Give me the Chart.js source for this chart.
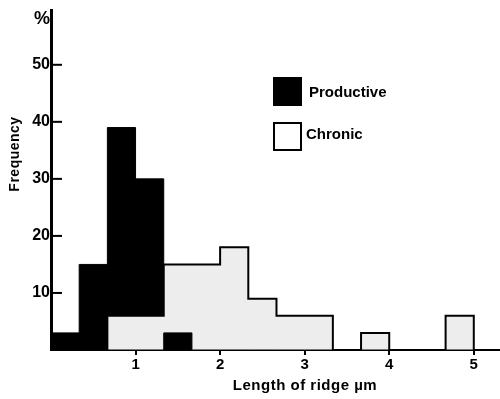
<!DOCTYPE html>
<html>
<head>
<meta charset="utf-8">
<title>Length of ridge histogram</title>
<script src="https://cdn.jsdelivr.net/npm/chart.js"></script>
<style>body { margin: 0; background: #fff; }</style>
</head>
<body>
<div style="width: 500px; height: 399px;">
    <canvas id="histChart"></canvas>
</div>

<script>
    // bins are 1/3 um wide
    const binEdges = [0, 0.3333, 0.6667, 1, 1.3333, 1.6667, 2, 2.3333, 2.6667, 3, 3.3333, 3.6667, 4, 4.3333, 4.6667, 5];
    const productive = [3, 15, 39, 30, 3, 0, 0, 0, 0, 0, 0, 0, 0, 0, 0];
    const chronic = [0, 0, 6, 6, 15, 15, 18, 9, 6, 6, 0, 3, 0, 0, 6];
    const yTicks = [10, 20, 30, 40, 50];
    const xTicks = [1, 2, 3, 4, 5];

    const FONT = '"Liberation Sans", Arial, sans-serif';

    // smaller bar is drawn on top, as in the original figure
    const productiveFront = productive.map((v, i) => v < chronic[i] ? v : 0);

    function steps(values) {
        return binEdges.map((x, i) => ({ x: x, y: i < values.length ? values[i] : 0 }));
    }

    const decor = {
        id: 'decor',
        afterDraw(chart) {
            const { ctx, scales: { x, y } } = chart;
            ctx.save();
            ctx.strokeStyle = '#000';
            ctx.lineWidth = 2;
            yTicks.forEach(v => {
                const py = y.getPixelForValue(v);
                ctx.beginPath();
                ctx.moveTo(x.left, py);
                ctx.lineTo(x.left + 11, py);
                ctx.stroke();
            });

            ctx.fillStyle = '#000';
            ctx.font = 'bold 18px ' + FONT;
            ctx.textAlign = 'right';
            ctx.textBaseline = 'middle';
            ctx.fillText('%', x.left - 1, 19);

            // axis titles
            ctx.font = 'bold 15px ' + FONT;
            ctx.textAlign = 'center';
            ctx.letterSpacing = '0.5px';
            ctx.fillText('Length of ridge \u00b5m', 305, 386);
            ctx.font = 'bold 14px ' + FONT;
            ctx.save();
            ctx.translate(15, 154);
            ctx.rotate(-Math.PI / 2);
            ctx.fillText('Frequency', 0, 0);
            ctx.restore();
            ctx.letterSpacing = '0px';

            // legend
            ctx.fillRect(273, 77, 29, 29);
            ctx.fillStyle = '#fff';
            ctx.fillRect(274, 123, 27, 27);
            ctx.strokeRect(274, 123, 27, 27);
            ctx.fillStyle = '#000';
            ctx.font = 'bold 15px ' + FONT;
            ctx.textAlign = 'left';
            ctx.fillText('Productive', 309, 93);
            ctx.fillText('Chronic', 306, 135);
            ctx.restore();
        }
    };

    const ctx = document.getElementById('histChart').getContext('2d');
    new Chart(ctx, {
        type: 'line',
        data: {
            datasets: [
                {
                    label: 'Productive',
                    data: steps(productive),
                    stepped: 'before',
                    borderColor: '#000',
                    borderWidth: 1,
                    backgroundColor: '#000',
                    fill: 'origin',
                    pointRadius: 0,
                    order: 3
                },
                {
                    label: 'Chronic',
                    data: steps(chronic),
                    stepped: 'before',
                    borderColor: '#000',
                    borderWidth: 2,
                    backgroundColor: '#ededed',
                    fill: 'origin',
                    pointRadius: 0,
                    order: 2
                },
                {
                    label: 'Productive (front)',
                    data: steps(productiveFront),
                    stepped: 'before',
                    borderColor: '#000',
                    borderWidth: 1,
                    backgroundColor: '#000',
                    fill: 'origin',
                    pointRadius: 0,
                    order: 1
                }
            ]
        },
        options: {
            responsive: true,
            maintainAspectRatio: false,
            animation: false,
            layout: { padding: { top: 10, right: 0, left: 0, bottom: 0 } },
            plugins: {
                legend: { display: false },
                tooltip: { enabled: false }
            },
            scales: {
                x: {
                    type: 'linear',
                    min: 0,
                    max: 5.31,
                    afterBuildTicks: scale => { scale.ticks = xTicks.map(v => ({ value: v })); },
                    afterFit: scale => { scale.height = 49; },
                    grid: { drawOnChartArea: false, drawTicks: true, tickLength: 5, color: '#000', lineWidth: 2 },
                    border: { color: '#000', width: 2 },
                    ticks: { color: '#000', padding: 1, font: { family: FONT, size: 15, weight: 'bold' } }
                },
                y: {
                    min: 0,
                    max: 59.5,
                    afterBuildTicks: scale => { scale.ticks = yTicks.map(v => ({ value: v })); },
                    afterFit: scale => { scale.width = 51; },
                    grid: { drawOnChartArea: false, drawTicks: false },
                    border: { color: '#000', width: 3 },
                    ticks: { color: '#000', padding: 1, font: { family: FONT, size: 16, weight: 'bold' } }
                }
            }
        },
        plugins: [decor]
    });
</script>
</body>
</html>
